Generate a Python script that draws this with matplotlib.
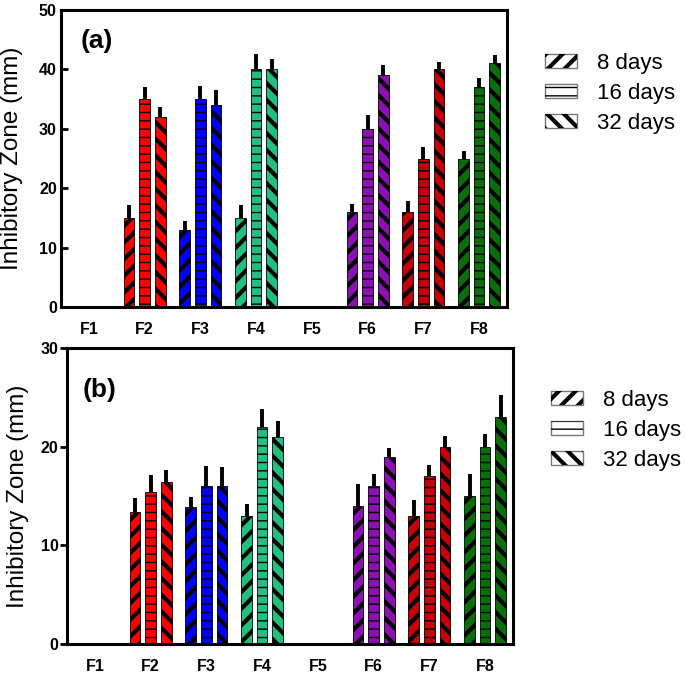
import numpy as np
import matplotlib as mpl
mpl.use("Agg")
import matplotlib.pyplot as plt
from matplotlib.patches import Patch, Rectangle
from matplotlib.legend_handler import HandlerPatch

plt.rcParams['font.family'] = ['Liberation Sans', 'DejaVu Sans']
plt.rcParams['hatch.linewidth'] = 3.0

# DATA
formulations = ["F1", "F2", "F3", "F4", "F5", "F6", "F7", "F8"]
bar_colors = ["#ffffff", "#ff0000", "#0000ff", "#22c07f", "#ffffff", "#8c10b4", "#c4000a", "#0a6e0a"]
periods = ["8 days", "16 days", "32 days"]

# panel (a)
a_8 = [0, 15, 13, 15, 0, 16, 16, 25]
a_8_err = [0, 2.2, 1.5, 2.2, 0, 1.3, 1.9, 1.2]
a_16 = [0, 35, 35, 40, 0, 30, 25, 37]
a_16_err = [0, 2.0, 2.2, 2.6, 0, 2.4, 2.0, 1.6]
a_32 = [0, 32, 34, 40, 0, 39, 40, 41]
a_32_err = [0, 1.7, 2.5, 1.7, 0, 1.8, 1.2, 1.5]

# panel (b)
b_8 = [0, 13.4, 13.9, 13, 0, 14, 13, 15]
b_8_err = [0, 1.4, 1.0, 1.2, 0, 2.2, 1.6, 2.2]
b_16 = [0, 15.4, 16, 22, 0, 16, 17, 20]
b_16_err = [0, 1.7, 2.0, 1.8, 0, 1.2, 1.1, 1.3]
b_32 = [0, 16.4, 16, 21, 0, 19, 20, 23]
b_32_err = [0, 1.2, 1.9, 1.6, 0, 0.9, 1.1, 2.2]

hatches = ['//', '--', '\\\\']
hatch_lw = [3.0, 1.0, 3.0]


def set_hlw(p, lw):
    if hasattr(p, 'set_hatch_linewidth'):
        p.set_hatch_linewidth(lw)


def legend_patch(lw):
    # legend copies of the hatch patch need their own hatch width
    def f(legend, orig_handle, xdescent, ydescent, width, height, fontsize):
        with mpl.rc_context({'hatch.linewidth': lw}):
            r = Rectangle((-xdescent, -ydescent), width, height)
        set_hlw(r, lw)
        return r
    return f


def draw_panel(ax, series, errors, ymax, tag, tag_xy, tickdir, tickpad, leg_xy):
    x = np.arange(len(formulations))
    for k in range(3):
        pos = x + (k - 1) * 0.28
        vals = np.array(series[k], float)
        errs = np.array(errors[k], float)
        with mpl.rc_context({'hatch.linewidth': hatch_lw[k]}):
            bars = ax.bar(pos, vals, width=0.19, color=bar_colors, edgecolor='black',
                          linewidth=0.6, hatch=hatches[k], zorder=2)
        for b in bars:
            set_hlw(b, hatch_lw[k])
        keep = vals > 0
        ax.errorbar(pos[keep], vals[keep], yerr=[np.zeros(keep.sum()), errs[keep]],
                    fmt='none', ecolor='black', elinewidth=2.8, capsize=0, zorder=3)

    ax.set_xlim(-0.5, 7.5)
    ax.set_ylim(0, ymax)
    ax.set_yticks(np.arange(0, ymax + 1, 10))
    ax.set_xticks(x, formulations)
    ax.tick_params(axis='x', length=0, pad=11, labelsize=11.5)
    ax.tick_params(axis='y', direction=tickdir, length=5, width=2, labelsize=11.5, pad=tickpad)
    for lbl in ax.get_xticklabels() + ax.get_yticklabels():
        lbl.set_fontweight('bold')
    for s in ax.spines.values():
        s.set_linewidth(2.2)
    ax.set_ylabel("Inhibitory Zone (mm)", fontsize=17.5)
    ax.yaxis.set_label_coords(-0.085, 0.5)
    ax.text(tag_xy[0], tag_xy[1], tag, transform=ax.transAxes, fontsize=19,
            fontweight='bold', ha='left', va='center')

    handles = []
    hmap = {}
    for k in range(3):
        box = Patch(facecolor='white', edgecolor='#777777', linewidth=1.0)
        hp = Patch(facecolor='none', edgecolor='black', linewidth=0, hatch=hatches[k])
        set_hlw(hp, hatch_lw[k])
        hmap[hp] = HandlerPatch(patch_func=legend_patch(hatch_lw[k]))
        handles.append((box, hp))
    ax.legend(handles, periods, loc='upper left', bbox_to_anchor=leg_xy,
              bbox_transform=ax.figure.transFigure, frameon=False, fontsize=16,
              handlelength=1.44, handleheight=0.6, handletextpad=0.9,
              labelspacing=0.4, borderpad=0, borderaxespad=0, handler_map=hmap)


fig = plt.figure(figsize=(6.86, 6.75), dpi=100)
ax1 = fig.add_axes([61 / 686, 1 - 307 / 675, 446 / 686, 297 / 675])
ax2 = fig.add_axes([67 / 686, 1 - 644 / 675, 446 / 686, 296 / 675])

draw_panel(ax1, [a_8, a_16, a_32], [a_8_err, a_16_err, a_32_err], 50, "(a)",
           (0.043, 0.895), 'in', 3, (545 / 686, 1 - 53 / 675))
draw_panel(ax2, [b_8, b_16, b_32], [b_8_err, b_16_err, b_32_err], 30, "(b)",
           (0.034, 0.858), 'out', 1, (551 / 686, 1 - 390 / 675))

fig.savefig("out.png", dpi=100)
